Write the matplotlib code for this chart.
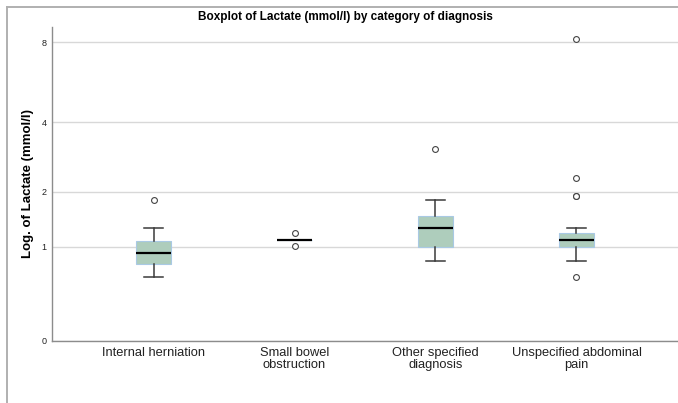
import numpy as np
import matplotlib
matplotlib.use('Agg')
import matplotlib.pyplot as plt
from matplotlib.lines import Line2D

plt.rcParams['font.family'] = ['Liberation Sans', 'DejaVu Sans']

categories = ['Internal herniation', 'Small bowel\nobstruction',
              'Other specified\ndiagnosis', 'Unspecified abdominal\npain']
whis_low = [0.60, 1.10, 0.80, 0.80]
q1 = [0.76, 1.10, 1.00, 1.00]
median = [0.91, 1.10, 1.30, 1.10]
q3 = [1.09, 1.10, 1.50, 1.21]
whis_high = [1.30, 1.10, 1.81, 1.30]
outliers = [[1.81], [1.21, 1.01], [3.10], [8.2, 2.31, 1.91, 1.90, 0.60]]
y_ticks = [0, 1, 2, 4, 8]

stats = []
for i, name in enumerate(categories):
    stats.append({'label': name, 'whislo': whis_low[i], 'q1': q1[i], 'med': median[i],
                  'q3': q3[i], 'whishi': whis_high[i], 'fliers': outliers[i]})

fig = plt.figure(figsize=(6.78, 4.03), dpi=100)
ax = fig.add_axes([52 / 678, 1 - 341 / 403, 1 - 52 / 678, (341 - 27) / 403])

ax.set_yscale('function', functions=(np.log1p, np.expm1))
ax.set_ylim(0, 9.06)
ax.set_xlim(-0.72, 3.72)

ax.bxp(stats, positions=range(len(categories)), widths=0.255, capwidths=0.13,
       patch_artist=True, manage_ticks=False,
       boxprops=dict(facecolor='#aecdbc', edgecolor='#a9c9e4', linewidth=0.8),
       medianprops=dict(color='black', linewidth=1.6),
       whiskerprops=dict(color='#3a3a3a', linewidth=1.1),
       capprops=dict(color='#3a3a3a', linewidth=1.1),
       flierprops=dict(marker='o', markersize=4.2, markerfacecolor='white',
                       markeredgecolor='#444444', markeredgewidth=0.8))

ax.set_yticks(y_ticks)
ax.set_yticklabels([str(t) for t in y_ticks], fontsize=6.5)
ax.set_xticks(range(len(categories)))
ax.set_xticklabels(categories, fontsize=9.3, linespacing=1.05)
ax.tick_params(axis='both', length=0, colors='#222222')
ax.tick_params(axis='y', pad=4)
ax.tick_params(axis='x', pad=4)

ax.grid(axis='y', color='#d8d8d8', linewidth=1.0)
ax.set_axisbelow(True)
for side in ['top', 'right']:
    ax.spines[side].set_visible(False)
for side in ['left', 'bottom']:
    ax.spines[side].set_color('#8c8c8c')
    ax.spines[side].set_linewidth(1.0)

ax.set_ylabel('Log. of Lactate (mmol/l)', fontsize=9.5, fontweight='bold')
ax.yaxis.set_label_coords(-0.029, 0.5)

fig.text(0.51, 1 - 17 / 403, 'Boxplot of Lactate (mmol/l) by category of diagnosis',
         ha='center', va='center', fontsize=8.5, fontweight='bold')

# thin frame along the top and left edge
fig.add_artist(Line2D([7 / 678, 1], [1 - 7 / 403, 1 - 7 / 403], color='#b0b0b0',
                      linewidth=1.4, transform=fig.transFigure))
fig.add_artist(Line2D([7 / 678, 7 / 678], [0, 1 - 7 / 403], color='#b0b0b0',
                      linewidth=1.4, transform=fig.transFigure))

fig.savefig('out.png', dpi=100)
